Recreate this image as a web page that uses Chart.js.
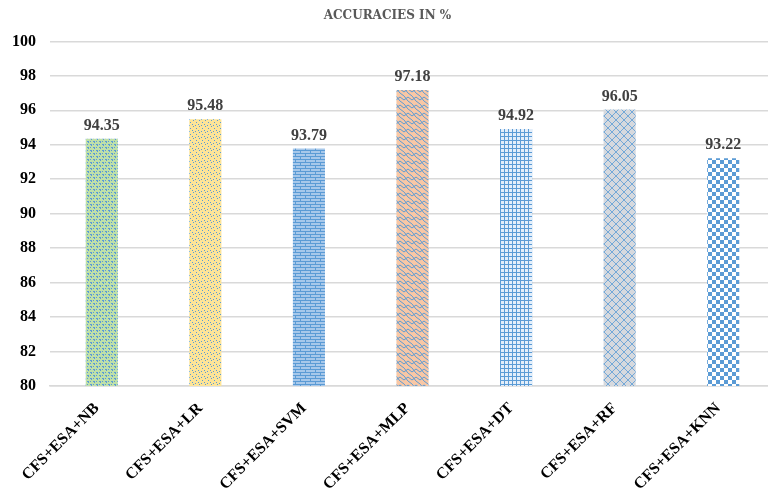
<!DOCTYPE html>
<html>
<head>
<meta charset="utf-8">
<script src="https://cdn.jsdelivr.net/npm/chart.js@4"></script>
<style>
  html, body { margin: 0; padding: 0; background: #fff; overflow: hidden; }
  #wrap { width: 776px; height: 489px; }
</style>
</head>
<body>
<div id="wrap"><canvas id="accChart" width="776" height="489"></canvas></div>
<script>
// data
const models = ['CFS+ESA+NB', 'CFS+ESA+LR', 'CFS+ESA+SVM', 'CFS+ESA+MLP', 'CFS+ESA+DT', 'CFS+ESA+RF', 'CFS+ESA+KNN'];
const accuracy = [94.35, 95.48, 93.79, 97.18, 94.92, 96.05, 93.22];
const yTicks = [80, 82, 84, 86, 88, 90, 92, 94, 96, 98, 100];

const blue = '#5b9bd5';

// little helper to make a fill pattern
function makePattern(w, h, bg, draw) {
  const c = document.createElement('canvas');
  c.width = w; c.height = h;
  const g = c.getContext('2d');
  g.fillStyle = bg;
  g.fillRect(0, 0, w, h);
  g.fillStyle = blue;
  g.strokeStyle = blue;
  draw(g);
  return document.getElementById('accChart').getContext('2d').createPattern(c, 'repeat');
}

const patterns = [
  // NB - green weave
  makePattern(6, 6, '#bfe0a8', g => {
    g.fillRect(0, 0, 2, 1); g.fillRect(1, 1, 1, 1);
    g.fillRect(3, 3, 2, 1); g.fillRect(4, 4, 1, 1);
    g.fillRect(3, 0, 1, 1); g.fillRect(0, 3, 1, 1);
  }),
  // LR - yellow confetti
  makePattern(6, 6, '#fde497', g => {
    g.fillRect(1, 0, 1, 1); g.fillRect(4, 2, 1, 1);
    g.fillRect(0, 4, 1, 1); g.fillRect(3, 5, 1, 1);
  }),
  // SVM - bricks
  makePattern(10, 6, '#a7c8ea', g => {
    g.fillRect(0, 0, 10, 1);
    g.fillRect(0, 3, 10, 1);
    g.fillRect(0, 0, 1, 3);
    g.fillRect(5, 3, 1, 3);
  }),
  // MLP - orange with blue waves
  makePattern(8, 8, '#f8c7a5', g => {
    g.lineWidth = 1;
    g.beginPath();
    g.moveTo(0, 1); g.lineTo(4, 4); g.lineTo(8, 1);
    g.moveTo(0, 5); g.lineTo(4, 8);
    g.moveTo(4, 0); g.lineTo(8, 5);
    g.stroke();
  }),
  // DT - small grid
  makePattern(4, 4, '#e3eefa', g => {
    g.fillRect(0, 0, 4, 1);
    g.fillRect(0, 0, 1, 4);
  }),
  // RF - grey trellis
  makePattern(8, 8, '#d6d9de', g => {
    g.lineWidth = 1;
    g.globalAlpha = 0.8;
    g.beginPath();
    g.moveTo(0, 0); g.lineTo(8, 8);
    g.moveTo(8, 0); g.lineTo(0, 8);
    g.stroke();
  }),
  // KNN - checkerboard
  makePattern(8, 8, '#ffffff', g => {
    g.fillRect(0, 0, 4, 4);
    g.fillRect(4, 4, 4, 4);
  })
];

// value labels over bars
const valueLabels = {
  id: 'valueLabels',
  afterDatasetsDraw(chart) {
    const ctx = chart.ctx;
    const meta = chart.getDatasetMeta(0);
    ctx.save();
    ctx.font = 'bold 16px "Liberation Serif", "Times New Roman", serif';
    ctx.fillStyle = '#404040';
    ctx.textAlign = 'center';
    ctx.textBaseline = 'bottom';
    meta.data.forEach((bar, i) => {
      ctx.fillText(accuracy[i].toFixed(2), bar.x, bar.y - 5);
    });
    ctx.restore();
  }
};

new Chart(document.getElementById('accChart'), {
  type: 'bar',
  data: {
    labels: models,
    datasets: [{
      data: accuracy,
      backgroundColor: patterns,
      borderWidth: 0,
      categoryPercentage: 1,
      barPercentage: 0.31
    }]
  },
  options: {
    responsive: false,
    animation: false,
    layout: { padding: { left: 0, right: 1, top: 0, bottom: 0 } },
    plugins: {
      legend: { display: false },
      tooltip: { enabled: false },
      title: {
        display: true,
        text: 'ACCURACIES IN %',
        color: '#595959',
        font: { family: '"DejaVu Serif", serif', size: 12, weight: 'bold' },
        padding: { top: 9, bottom: 18 }
      }
    },
    scales: {
      x: {
        grid: { display: false },
        border: { color: '#d9d9d9', width: 1.5 },
        ticks: {
          color: '#000',
          minRotation: 45,
          maxRotation: 45,
          padding: 5,
          labelOffset: -5,
          font: { family: '"Liberation Serif", "Times New Roman", serif', size: 16, weight: 'bold' }
        },
        afterFit(scale) { scale.height = 103; }
      },
      y: {
        min: 80,
        max: 100,
        afterBuildTicks(scale) { scale.ticks = yTicks.map(v => ({ value: v })); },
        grid: { color: '#d9d9d9', lineWidth: 1.5, drawTicks: false },
        border: { display: false },
        ticks: {
          color: '#000',
          padding: 14,
          font: { family: '"Liberation Serif", "Times New Roman", serif', size: 16, weight: 'bold' }
        },
        afterFit(scale) { scale.width = 50; }
      }
    }
  },
  plugins: [valueLabels]
});
</script>
</body>
</html>
